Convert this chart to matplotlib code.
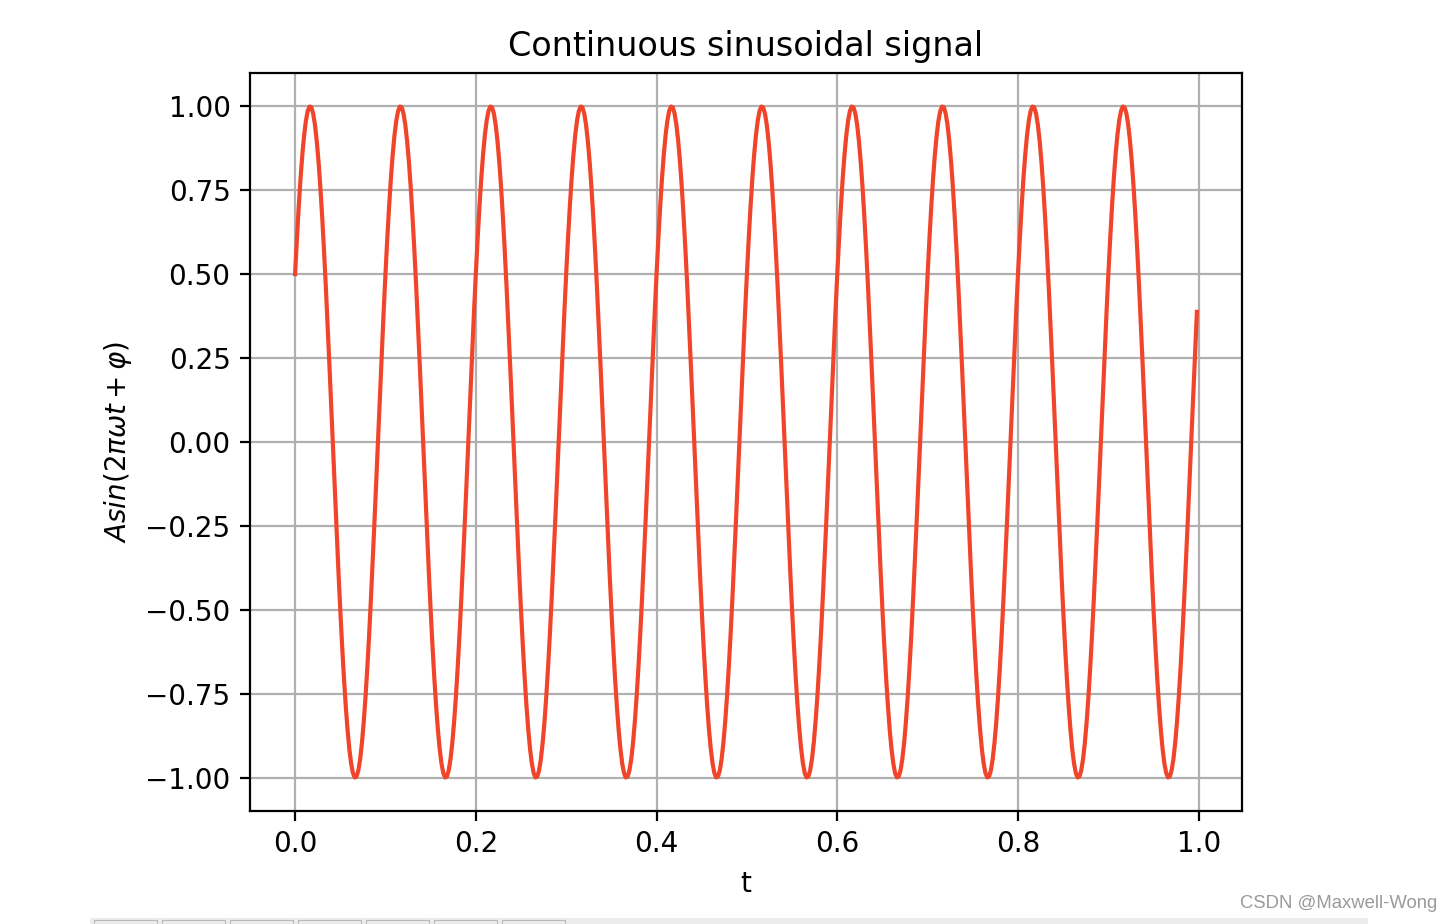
import numpy as np
import matplotlib
matplotlib.use("Agg")
import matplotlib.pyplot as plt
from matplotlib.patches import Rectangle

# Signal parameters
amplitude = 1.0          # peaks at +/-1
frequency = 10           # 10 cycles over [0, 1)
phase = np.pi / 6        # starts at 0.5
t_start, t_stop, t_step = 0.0, 1.0, 0.002

title = "Continuous sinusoidal signal"
xlabel = "t"
ylabel = r"$Asin(2\pi\omega t+\varphi)$"
yticks = [-1.00, -0.75, -0.50, -0.25, 0.00, 0.25, 0.50, 0.75, 1.00]
xticks = [0.0, 0.2, 0.4, 0.6, 0.8, 1.0]

t = np.arange(t_start, t_stop, t_step)
y = amplitude * np.sin(2 * np.pi * frequency * t + phase)

W, H, DPI = 1452, 924, 200
fig = plt.figure(figsize=(W / DPI, H / DPI), dpi=DPI)
ax = fig.add_axes([250 / W, 1 - 811 / H, (1242 - 250) / W, (811 - 73) / H])
ax.plot(t, y, color="#f0452a", linewidth=1.5)
ax.set_title(title)
ax.set_xlabel(xlabel)
ax.set_ylabel(ylabel)
ax.set_yticks(yticks)
ax.set_xticks(xticks)
ax.grid(True)

# bottom toolbar strip and watermark from the screenshot
fig.patches.append(Rectangle((90 / W, 0), (1368 - 90) / W, 6 / H,
                             transform=fig.transFigure, facecolor="#ececec",
                             edgecolor="none"))
for i in range(7):
    x0 = 94 + i * 68
    fig.patches.append(Rectangle((x0 / W, 0), 63 / W, 4 / H,
                                 transform=fig.transFigure, facecolor="#ececec",
                                 edgecolor="#b8b8b8", linewidth=0.4))
fig.text(1437 / W, 1 - 904 / H, "CSDN @Maxwell-Wong", ha="right", va="center",
         fontsize=6.65, color="#9a9a9a", family="Liberation Sans")

fig.savefig("out.png", dpi=DPI)
